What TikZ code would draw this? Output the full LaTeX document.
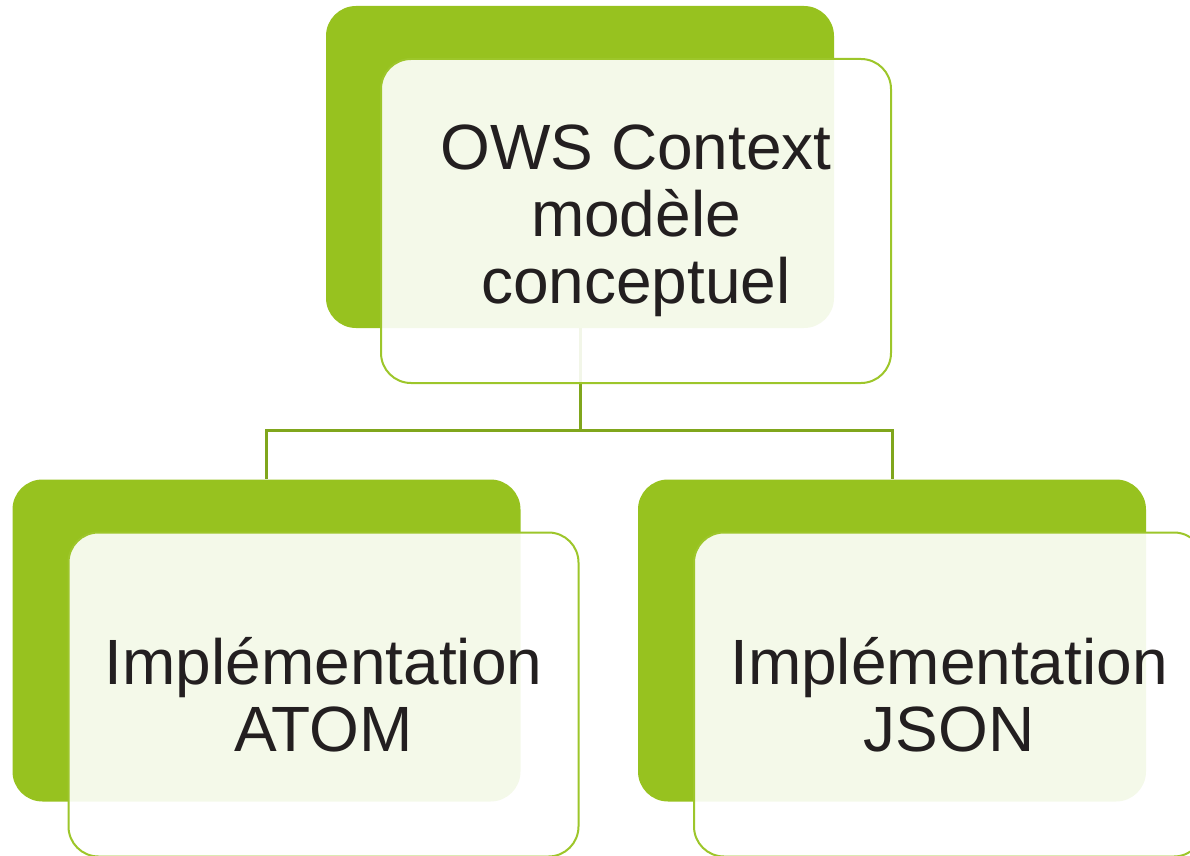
\documentclass[tikz,border=0pt]{standalone}
\usepackage{fontspec}
\setmainfont{Liberation Sans}
\usetikzlibrary{positioning}

\definecolor{leafgreen}{RGB}{151,194,31}
\definecolor{rimgreen}{RGB}{157,198,42}
\definecolor{linkgreen}{RGB}{128,166,28}
\definecolor{inkgray}{RGB}{35,31,32}

\begin{document}
\begin{tikzpicture}[x=0.5pt,y=-0.5pt]

\tikzset{back/.style = {shape=rectangle, rounded corners=15pt, fill=leafgreen, draw=none, inner sep=0pt, minimum width=254pt, minimum height=161pt}}
\tikzset{front/.style = {shape=rectangle, rounded corners=15pt, fill=white, fill opacity=0.9, text opacity=1, draw=rimgreen, line width=1pt, inner sep=0pt, minimum width=255pt, minimum height=162pt, align=center, text=inkgray, font=\fontsize{32}{33.5}\selectfont}}
\tikzset{link/.style = {draw=linkgreen, line width=1.5pt}}

\useasboundingbox (0,0) rectangle (1190,856);
\clip (0,0) rectangle (1190,856);

%background boxes
\node[back] (ctxback) at (580,167) {};
\node[back] (atomback) at (266.5,640.5) {};
\node[back] (jsonback) at (892,640.5) {};

%tree lines
\draw[link] (ctxback.south) -- ++(0,102) -| (atomback.north);
\draw[link] (ctxback.south) -- ++(0,102) -| (jsonback.north);

%front boxes
\node[front] (ctx) at (636,221) {OWS Context\\modèle\\conceptuel};
\node[front] (atom) at (323.5,694.5) {Implémentation\\ATOM};
\node[front] (json) at (949,694.5) {Implémentation\\JSON};

\end{tikzpicture}
\end{document}
